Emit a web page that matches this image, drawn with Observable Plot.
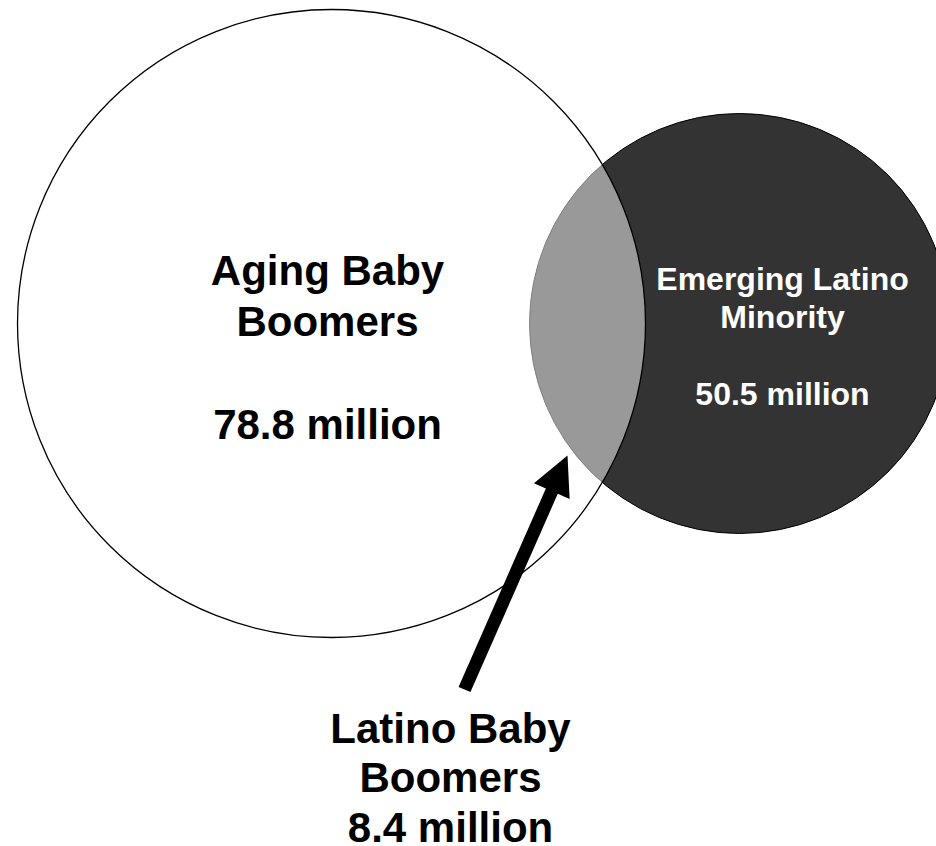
<!DOCTYPE html>
<html>
<head>
<meta charset="utf-8">
<script src="https://cdn.jsdelivr.net/npm/d3@7"></script>
<script src="https://cdn.jsdelivr.net/npm/@observablehq/plot@0.6"></script>
<style>
  html, body { margin: 0; padding: 0; background: #fff; overflow: hidden; }
  #chart svg { display: block; }
</style>
</head>
<body>
<div id="chart"></div>
<script>
// ---- Data ----
const setNames = ["Aging Baby\nBoomers", "Emerging Latino\nMinority"];
const setValues = [78.8, 50.5];            // millions
const overlapName = "Latino Baby\nBoomers";
const overlapValue = 8.4;                  // millions
const unit = "million";

// ---- Layout (pixel space of the 936x846 canvas) ----
const W = 936, H = 846;
const circleCx = [331, 739];
const circleCy = [323, 323];
const circleR = [314, 210];
const arrowTail = [464, 689];
const arrowTip = [567, 455];
const headLen = 39;

const circles = setNames.map((name, i) => ({
  name, cx: circleCx[i], cy: circleCy[i], r: circleR[i]
}));

const dir = (() => {
  const dx = arrowTip[0] - arrowTail[0], dy = arrowTip[1] - arrowTail[1];
  const L = Math.hypot(dx, dy);
  return [dx / L, dy / L];
})();
const angle = Math.atan2(dir[0], -dir[1]) * 180 / Math.PI;
const baseCenter = [arrowTip[0] - dir[0] * headLen, arrowTip[1] - dir[1] * headLen];
const headMid = [arrowTip[0] - dir[0] * headLen / 2, arrowTip[1] - dir[1] * headLen / 2];

// custom isoceles triangle symbol: tip up, height = base = 2r
const arrowHead = {
  draw(context, size) {
    const r = Math.sqrt(size / Math.PI);
    context.moveTo(0, -r);
    context.lineTo(r, r);
    context.lineTo(-r, r);
    context.closePath();
  }
};

const font = "Liberation Sans, Arial, Helvetica, sans-serif";

const chart = Plot.plot({
  width: W,
  height: H,
  margin: 0,
  x: {domain: [0, W], range: [0, W], axis: null},
  y: {domain: [0, H], range: [0, H], axis: null},
  r: {type: "identity"},
  style: {background: "#fff", overflow: "hidden"},
  marks: [
    // Emerging Latino Minority (dark)
    Plot.dot([circles[1]], {x: "cx", y: "cy", r: "r", fill: "#333333", stroke: "#000", strokeWidth: 1}),
    // Aging Baby Boomers (white, half transparent -> grey overlap)
    Plot.dot([circles[0]], {x: "cx", y: "cy", r: "r", fill: "#ffffff", fillOpacity: 0.5, stroke: "#000", strokeWidth: 1.3}),
    // arrow shaft
    Plot.link([{x1: arrowTail[0], y1: arrowTail[1], x2: baseCenter[0] + dir[0] * 2, y2: baseCenter[1] + dir[1] * 2}],
      {x1: "x1", y1: "y1", x2: "x2", y2: "y2", stroke: "#000", strokeWidth: 13, strokeLinecap: "butt"}),
    // arrow head
    Plot.dot([{x: headMid[0], y: headMid[1]}], {x: "x", y: "y", r: headLen / 2, symbol: arrowHead, fill: "#000", stroke: "none", rotate: angle}),
    // labels
    Plot.text([{t: `${setNames[0]}\n\n${setValues[0]} ${unit}`}], {
      x: () => 327, y: () => 248, text: "t", lineAnchor: "top", lineHeight: 1.22,
      fontSize: 42, fontWeight: "bold", fontFamily: font, fill: "#000"
    }),
    Plot.text([{t: `${setNames[1]}\n\n${setValues[1]} ${unit}`}], {
      x: () => 782, y: () => 262, text: "t", lineAnchor: "top", lineHeight: 1.2,
      fontSize: 32, fontWeight: "bold", fontFamily: font, fill: "#fff"
    }),
    Plot.text([{t: `${overlapName}\n${overlapValue} ${unit}`}], {
      x: () => 450, y: () => 707, text: "t", lineAnchor: "top", lineHeight: 1.18,
      fontSize: 42, fontWeight: "bold", fontFamily: font, fill: "#000"
    })
  ]
});

document.getElementById("chart").appendChild(chart);
</script>
</body>
</html>
